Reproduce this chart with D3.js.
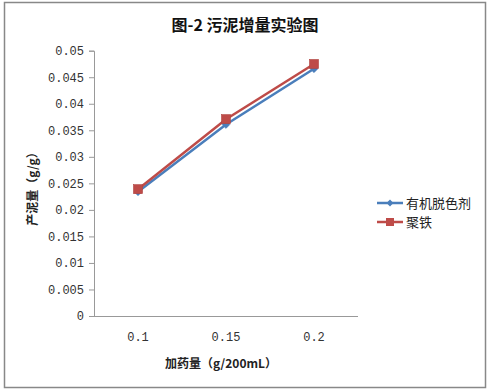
<!DOCTYPE html>
<html><head><meta charset="utf-8">
<script src="https://cdn.jsdelivr.net/npm/d3@7"></script>
<style>body{margin:0;background:#fff}</style>
</head><body><svg id="c" width="490" height="391"></svg>
<script>
const categories = ["0.1", "0.15", "0.2"];
const seriesNames = ["有机脱色剂", "聚铁"];
const organic = [0.0234, 0.0361, 0.0466];
const polyIron = [0.0239, 0.0371, 0.0475];
const yTicks = [0, 0.005, 0.01, 0.015, 0.02, 0.025, 0.03, 0.035, 0.04, 0.045, 0.05];
const yTickLabels = ["0", "0.005", "0.01", "0.015", "0.02", "0.025", "0.03", "0.035", "0.04", "0.045", "0.05"];

const svg = d3.select("#c");
svg.append("rect").attr("x", 4.5).attr("y", 2.5).attr("width", 481).attr("height", 385)
  .attr("fill", "#fff").attr("stroke", "#888").attr("stroke-width", 1.5);

const x = d3.scaleBand().domain(categories).range([94, 358]);
const y = d3.scaleLinear().domain([0, 0.05]).range([316, 50.7]);

// y axis
const ya = svg.append("g").attr("transform", "translate(94,0)")
  .call(d3.axisLeft(y).tickValues(yTicks).tickSize(5).tickPadding(5)
    .tickFormat((d, i) => yTickLabels[i]));
ya.select(".domain").attr("stroke", "#999");
ya.selectAll(".tick line").attr("stroke", "#999");
ya.selectAll("text").attr("font-family", "Liberation Mono, monospace").attr("font-size", 12).attr("fill", "#333");

// x axis
const xa = svg.append("g").attr("transform", "translate(0,316)")
  .call(d3.axisBottom(x).tickSize(0).tickPadding(16));
xa.select(".domain").attr("stroke", "#999").attr("d", "M94,0.5H358");
xa.selectAll("text").attr("font-family", "Liberation Mono, monospace").attr("font-size", 12).attr("fill", "#333");

const cx = d => x(d) + x.bandwidth() / 2;
const line = d3.line().x((d, i) => cx(categories[i])).y(d => y(d));

const colors = ["#4a7ebb", "#be4b48"];
const data = [organic, polyIron];

data.forEach((s, k) => {
  svg.append("path").datum(s).attr("d", line).attr("fill", "none")
    .attr("stroke", colors[k]).attr("stroke-width", 2.5);
});
// markers
svg.append("g").selectAll("path").data(organic).join("path")
  .attr("transform", (d, i) => `translate(${cx(categories[i])},${y(d)})`)
  .attr("d", d3.symbol(d3.symbolDiamond2, 40)).attr("fill", colors[0]).attr("stroke", colors[0]).attr("stroke-width", 0.5);
svg.append("g").selectAll("rect").data(polyIron).join("rect")
  .attr("x", (d, i) => cx(categories[i]) - 4.5).attr("y", d => y(d) - 4.5)
  .attr("width", 9).attr("height", 9).attr("fill", colors[1]).attr("stroke", "#b04340").attr("stroke-width", 0.6);

// title
svg.append("text").attr("x", 245).attr("y", 31).attr("text-anchor", "middle")
  .attr("font-family", "Noto Sans CJK SC, sans-serif").attr("font-weight", "bold").attr("font-size", 16)
  .attr("fill", "#111").text("图-2 污泥增量实验图");

// axis titles
svg.append("text").attr("x", 221).attr("y", 368).attr("text-anchor", "middle")
  .attr("font-family", "Noto Sans CJK SC, sans-serif").attr("font-weight", "bold").attr("font-size", 12)
  .attr("fill", "#222").text("加药量（g/200mL）");
svg.append("text").attr("transform", "translate(37,186) rotate(-90)").attr("text-anchor", "middle")
  .attr("font-family", "Noto Sans CJK SC, sans-serif").attr("font-weight", "bold").attr("font-size", 12)
  .attr("fill", "#222").text("产泥量（g/g）");

// legend
const lg = svg.append("g");
seriesNames.forEach((n, k) => {
  const yy = 203 + k * 19;
  lg.append("line").attr("x1", 377).attr("x2", 403).attr("y1", yy).attr("y2", yy)
    .attr("stroke", colors[k]).attr("stroke-width", 2.5);
  if (k === 0) {
    lg.append("path").attr("transform", `translate(390,${yy})`).attr("d", d3.symbol(d3.symbolDiamond2, 30)).attr("fill", colors[0]);
  } else {
    lg.append("rect").attr("x", 386).attr("y", yy - 4).attr("width", 8).attr("height", 8).attr("fill", colors[1]);
  }
  lg.append("text").attr("x", 406).attr("y", yy + 5).attr("font-family", "Noto Sans CJK SC, sans-serif")
    .attr("font-size", 13).attr("fill", "#222").text(n);
});
</script></body></html>
